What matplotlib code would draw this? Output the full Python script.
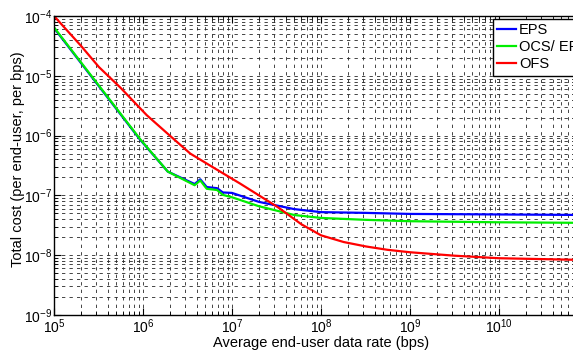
import matplotlib
matplotlib.use("Agg")
import matplotlib.pyplot as plt
from matplotlib.ticker import LogLocator, NullFormatter

plt.rcParams['font.family'] = ['Liberation Sans', 'DejaVu Sans']
plt.rcParams['mathtext.default'] = 'regular'

# Data
x_eps = [1e5, 9.3e5, 1.9e6, 3.8e6, 4.4e6, 5.2e6, 6.8e6, 7.9e6, 1e7, 2e7, 5e7, 1e8, 3.2e8, 1e9, 1e10, 1e11]
y_eps = [6.3e-5, 8.5e-7, 2.5e-7, 1.55e-7, 1.86e-7, 1.38e-7, 1.32e-7, 1.12e-7, 1.1e-7, 7.8e-8, 5.9e-8, 5.25e-8, 5.1e-8, 4.9e-8, 4.8e-8, 4.7e-8]

x_ocs = [1e5, 9.3e5, 1.9e6, 3.8e6, 4.4e6, 5.2e6, 6.8e6, 7.9e6, 1e7, 2e7, 5e7, 1e8, 3.2e8, 1e9, 1e10, 1e11]
y_ocs = [6.46e-5, 8.7e-7, 2.5e-7, 1.48e-7, 1.78e-7, 1.29e-7, 1.23e-7, 1.02e-7, 9.3e-8, 6.6e-8, 4.7e-8, 4.2e-8, 3.9e-8, 3.7e-8, 3.55e-8, 3.47e-8]

x_ofs = [1e5, 2e5, 3.2e5, 5.6e5, 1.1e6, 2e6, 3.4e6, 6e6, 1.23e7, 3.3e7, 6e7, 1e8, 1.8e8, 3.2e8, 5.6e8, 1e9, 3.2e9, 1e10, 1e11]
y_ofs = [1e-4, 3.2e-5, 1.4e-5, 6.3e-6, 2.2e-6, 1e-6, 5e-7, 3e-7, 1.58e-7, 6.3e-8, 3.3e-8, 2.15e-8, 1.66e-8, 1.4e-8, 1.23e-8, 1.12e-8, 9.8e-9, 8.9e-9, 8.3e-9]

x_ticks = [1e5, 1e6, 1e7, 1e8, 1e9, 1e10]
y_ticks = [1e-9, 1e-8, 1e-7, 1e-6, 1e-5, 1e-4]

labels = ["EPS", "OCS/ EPS", "OFS"]
colors = ["#0000ff", "#00ee00", "#ff0000"]

fig = plt.figure(figsize=(5.73, 3.52), dpi=100)
ax = fig.add_axes([54/573, 1 - 315/352, 534/573, 299/352])

ax.plot(x_eps, y_eps, color=colors[0], lw=1.6, label=labels[0])
ax.plot(x_ocs, y_ocs, color=colors[1], lw=1.6, label=labels[1])
ax.plot(x_ofs, y_ofs, color=colors[2], lw=1.6, label=labels[2])

ax.set_xscale('log')
ax.set_yscale('log')
ax.set_xlim(1e5, 1e11)
ax.set_ylim(1e-9, 1e-4)

ax.set_xticks(x_ticks)
ax.set_yticks(y_ticks)
ax.xaxis.set_minor_locator(LogLocator(base=10, subs=range(2, 10), numticks=20))
ax.yaxis.set_minor_locator(LogLocator(base=10, subs=range(2, 10), numticks=20))
ax.xaxis.set_minor_formatter(NullFormatter())
ax.yaxis.set_minor_formatter(NullFormatter())

ax.grid(True, which='both', color='0.15', ls=(0, (4, 5)), lw=0.6)
ax.set_axisbelow(True)
ax.tick_params(which='both', direction='in', top=True, right=True, labelsize=10)
ax.tick_params(axis='y', which='major', pad=1)
ax.tick_params(axis='x', which='major', pad=2)
ax.tick_params(which='major', length=5)
ax.tick_params(which='minor', length=3)
for s in ax.spines.values():
    s.set_linewidth(1.0)

ax.set_xlabel("Average end-user data rate (bps)", fontsize=10.5, labelpad=0)
ax.set_ylabel("Total cost (per end-user, per bps)", fontsize=10.5)
ax.yaxis.set_label_coords(-(54 - 25) / 534, 0.52)

leg = ax.legend(loc='upper left', bbox_to_anchor=(493/573, 1 - 19/352),
                bbox_transform=fig.transFigure, fontsize=10.5, frameon=True,
                fancybox=False, framealpha=1, edgecolor='k', borderpad=0.3,
                handlelength=1.3, handletextpad=0.2, labelspacing=0.2,
                borderaxespad=0)
leg.get_frame().set_linewidth(1.0)

fig.savefig("out.png", dpi=100)
